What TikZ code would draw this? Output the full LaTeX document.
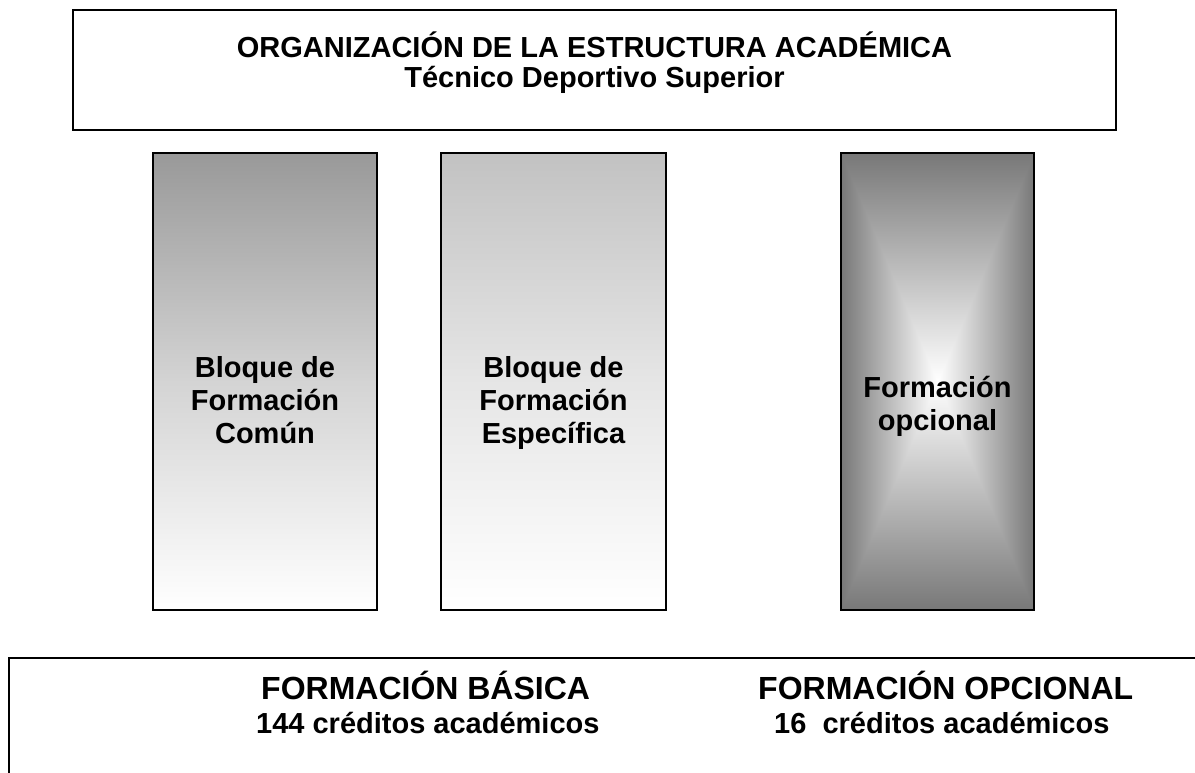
\documentclass[tikz,border=0pt]{standalone}
\usepackage{fontspec}
\setmainfont{Liberation Sans}
\usepackage{xcolor}
\usetikzlibrary{positioning}

\definecolor{ComunTop}{gray}{0.60}
\definecolor{ComunMid}{gray}{0.83}
\definecolor{EspecTop}{gray}{0.76}
\definecolor{EspecMid}{gray}{0.90}

% grey rim, white core (rectangle gradient from centre)
\pgfdeclarefunctionalshading{OpcionalGlow}{\pgfpoint{-50bp}{-50bp}}{\pgfpoint{50bp}{50bp}}{}{
	abs exch abs 2 copy lt {exch} if pop 25 div dup 1 gt {pop 1} if
	0.53 mul 1 exch sub dup dup
}

\begin{document}
\begin{tikzpicture}[
			x=1pt, y=-1pt,
			FrameCfg/.style={
				draw, line width=2.2pt, inner sep=0pt
			},
			BlockCfg/.style={
				FrameCfg, minimum height=457pt
			},
			LabelCfg/.style={
				font=\fontsize{29}{33}\selectfont\bfseries,
				align=center, inner sep=0pt
			},
			HeadCfg/.style={
				font=\fontsize{32}{36}\selectfont\bfseries, inner sep=0pt
			}
			]
			
			\useasboundingbox (0,0) rectangle (1195,772);
			\clip (0,0) rectangle (1195,772);
			
			% header
			\path
			(594.5,70) node [FrameCfg, minimum width=1043pt, minimum height=120pt] (Header) {}
			(594.5,57) node [LabelCfg, anchor=base] (Titulo) {ORGANIZACIÓN DE LA ESTRUCTURA ACADÉMICA}
			(594.5,87) node [LabelCfg, anchor=base] (Nivel) {Técnico Deportivo Superior};
			
			% blocks
			\path
			(265,381.5) node [BlockCfg, minimum width=224pt,
				top color=ComunTop, bottom color=white, middle color=ComunMid] (Comun) {}
			(553.5,381.5) node [BlockCfg, minimum width=225pt,
				top color=EspecTop, bottom color=white, middle color=EspecMid] (Especifica) {}
			(937.5,381.5) node [BlockCfg, minimum width=193pt, shading=OpcionalGlow] (Opcional) {};
			
			\path
			(Comun.center) ++ (0,18.5) node [LabelCfg] (ComunText) {Bloque de\\Formación\\Común}
			(Especifica.center) ++ (0,21.5) node [LabelCfg] (EspecText) {Bloque de\\Formación\\Específica}
			(Opcional.center) ++ (0,25) node [LabelCfg] (OpcText) {Formación\\opcional};
			
			% footer, runs off the page
			\path
			(614.5,729) node [FrameCfg, minimum width=1211pt, minimum height=142pt] (Footer) {}
			(261,699.5) node [HeadCfg, anchor=base west] (Basica) {FORMACIÓN BÁSICA}
			(256,733.5) node [LabelCfg, anchor=base west] (BasicaCred) {144 créditos académicos}
			(758,699.5) node [HeadCfg, anchor=base west] (Opcion) {FORMACIÓN OPCIONAL}
			(774,733.5) node [LabelCfg, anchor=base west] (OpcionCred) {16\ \ créditos académicos};
		\end{tikzpicture}
\end{document}
